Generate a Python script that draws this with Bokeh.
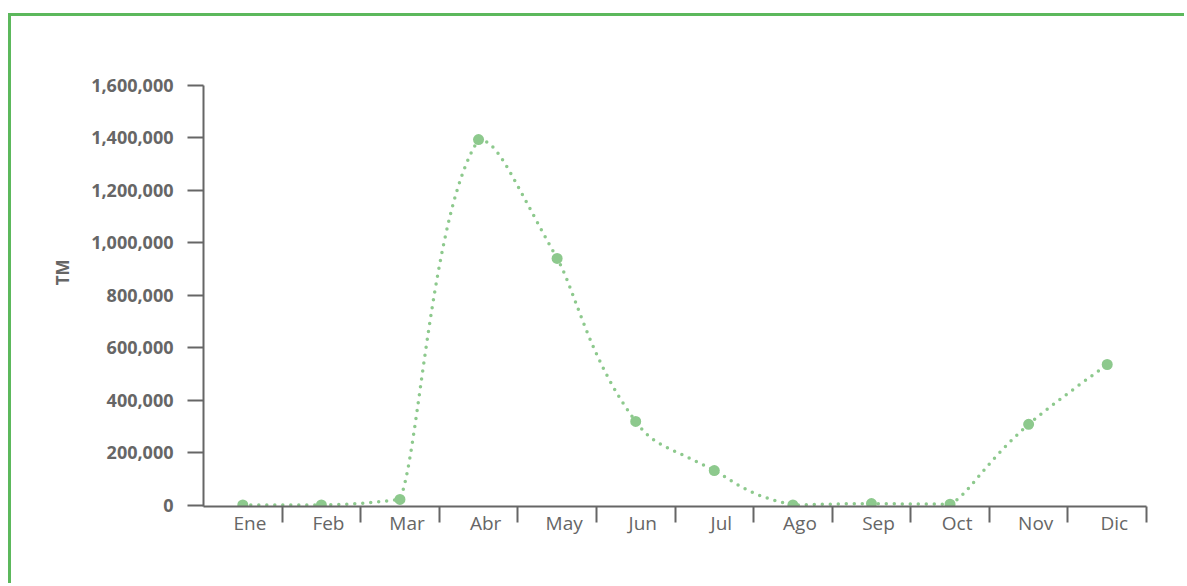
import numpy as np
from bokeh.plotting import figure
from bokeh.models import Range1d, FixedTicker, NumeralTickFormatter, Title, LinearAxis
from bokeh.embed import file_html
from bokeh.resources import INLINE

# ---- data ----
months = ["Ene", "Feb", "Mar", "Abr", "May", "Jun", "Jul", "Ago", "Sep", "Oct", "Nov", "Dic"]
tm_values = [2000, 2000, 23000, 1394000, 941000, 320000, 133000, 2000, 7000, 5000, 309000, 537000]
y_tick_values = [0, 200000, 400000, 600000, 800000, 1000000, 1200000, 1400000, 1600000]
y_label = "TM"

LINE_GREEN = "#8dc98d"
BORDER_GREEN = "#5cb85c"
AXIS_GREY = "#666666"

xs = list(range(len(months)))
LABEL_SHIFT = 0.09  # month names sit slightly right of the band centres


def smooth_curve(x, y, k_out=0.12, k_in=0.3, n=40):
    """Cubic Bezier smoothing through the points; control points are kept
    within the y-range of their segment (no overshoot)."""
    N = len(x)
    cx, cy = [x[0]], [y[0]]
    for i in range(N - 1):
        x0, y0, x3, y3 = x[i], y[i], x[i + 1], y[i + 1]
        if i > 0:
            x1 = x0 + k_out * (x[i + 1] - x[i - 1])
            y1 = y0 + k_out * (y[i + 1] - y[i - 1])
        else:
            x1, y1 = x0, y0
        if i + 2 < N:
            x2 = x3 - k_in * (x[i + 2] - x[i])
            y2 = y3 - k_in * (y[i + 2] - y[i])
        else:
            x2, y2 = x3, y3
        lo, hi = min(y0, y3), max(y0, y3)
        y1 = min(max(y1, lo), hi)
        y2 = min(max(y2, lo), hi)
        t = np.linspace(0, 1, n)[1:]
        a, b, c, d = (1 - t) ** 3, 3 * (1 - t) ** 2 * t, 3 * (1 - t) * t ** 2, t ** 3
        cx.extend(a * x0 + b * x1 + c * x2 + d * x3)
        cy.extend(a * y0 + b * y1 + c * y2 + d * y3)
    return cx, cy


curve_x, curve_y = smooth_curve(xs, tm_values)

p = figure(
    width=1176, height=570,
    x_range=Range1d(-0.5, len(months) - 0.5),
    y_range=Range1d(-4000, 1600000),
    output_backend="svg", toolbar_location=None,
    min_border_left=192, min_border_top=69, min_border_right=41, min_border_bottom=80,
)
p.styles = {
    "border-top": f"3px solid {BORDER_GREEN}",
    "border-left": f"3px solid {BORDER_GREEN}",
    "margin-top": "13px",
    "margin-left": "8px",
}
p.outline_line_color = None
p.xgrid.visible = False
p.ygrid.visible = False
p.background_fill_color = "white"
p.border_fill_color = "white"

# label range is the category range shifted by LABEL_SHIFT
p.extra_x_ranges = {"labels": Range1d(-0.5 - LABEL_SHIFT, len(months) - 0.5 - LABEL_SHIFT)}
p.xaxis.visible = False
xaxis = LinearAxis(x_range_name="labels")
xaxis.ticker = FixedTicker(ticks=xs, minor_ticks=[i + 0.5 - LABEL_SHIFT for i in xs])
xaxis.major_label_overrides = {i: m for i, m in zip(xs, months)}
xaxis.major_tick_out = 0
xaxis.major_tick_in = 0
xaxis.major_tick_line_color = None
xaxis.minor_tick_out = 16
xaxis.minor_tick_in = 0
xaxis.minor_tick_line_color = AXIS_GREY
xaxis.minor_tick_line_width = 2
xaxis.axis_line_color = AXIS_GREY
xaxis.axis_line_width = 2
xaxis.major_label_standoff = -13
xaxis.major_label_text_font = "Open Sans"
xaxis.major_label_text_font_size = "19px"
xaxis.major_label_text_color = AXIS_GREY
p.add_layout(xaxis, "below")

ya = p.yaxis[0]
ya.ticker = FixedTicker(ticks=y_tick_values)
ya.formatter = NumeralTickFormatter(format="0,0")
ya.minor_tick_line_color = None
ya.major_tick_out = 16
ya.major_tick_in = 0
ya.major_tick_line_color = AXIS_GREY
ya.major_tick_line_width = 2
ya.axis_line_color = AXIS_GREY
ya.axis_line_width = 2
ya.major_label_standoff = 14
ya.major_label_text_font = "Open Sans"
ya.major_label_text_font_size = "18px"
ya.major_label_text_font_style = "bold"
ya.major_label_text_color = AXIS_GREY

ttl = Title(text=y_label, align="right", offset=174, standoff=30,
            text_font="Open Sans", text_font_size="17px", text_font_style="bold",
            text_color=AXIS_GREY)
p.add_layout(ttl, "left")

p.line(curve_x, curve_y, line_color=LINE_GREEN, line_width=3.5,
       line_dash="0 8", line_cap="round")
p.scatter(xs, tm_values, size=11, fill_color=LINE_GREEN, line_color=None)

open("out.html", "w").write(file_html(p, INLINE))
